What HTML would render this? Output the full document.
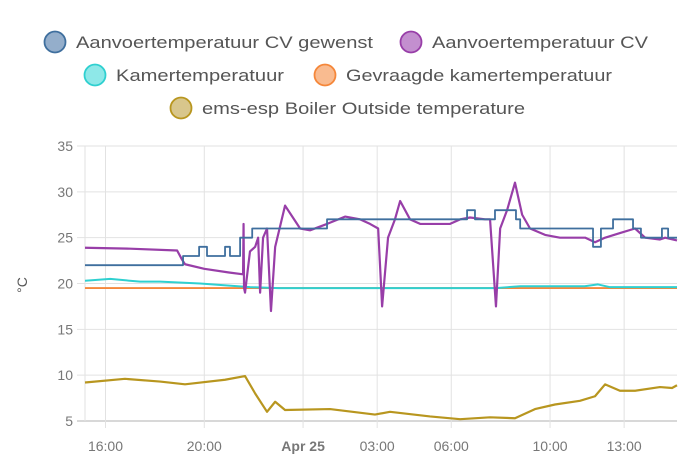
<!DOCTYPE html>
<html><head><meta charset="utf-8"><style>
body{margin:0;background:#fff;}
svg{display:block;font-family:"Liberation Sans",sans-serif;}
</style></head><body>
<svg id="chart" width="691" height="476" viewBox="0 0 691 476">
<g id="legend"></g>
<g id="grid"></g>
<g id="axes"></g>
<g id="series"></g>
<text x="0" y="0" transform="translate(27,285) rotate(-90)" text-anchor="middle" font-size="14" fill="#555">°C</text>
</svg>
<script>
const yTicks=[5,10,15,20,25,30,35];
const xTickTimes=[-8,-4,0,3,6,10,13];
const xTickLabels=["16:00","20:00","Apr 25","03:00","06:00","10:00","13:00"];
const setT=[-8.83,-4.86,-4.21,-3.89,-3.16,-2.96,-2.55,-2.06,0.97,6.64,6.96,7.77,8.62,8.79,11.74,12.06,12.55,13.36,13.68,14.53,14.78,15.14];
const setV=[22,23,24,23,24,23,25,26,27,28,27,28,27,26,24,26,27,26,25,26,25,25];
const cvT=[-8.83,-7,-5.1,-4.9,-4.78,-4,-3,-2.43,-2.41,-2.39,-2.35,-2.15,-1.94,-1.82,-1.74,-1.62,-1.46,-1.30,-1.13,-0.73,-0.12,0.28,0.97,1.7,2.31,2.71,3.04,3.2,3.44,3.72,3.93,4.33,4.74,5.95,6.36,6.76,7.37,7.57,7.81,7.98,8.26,8.58,8.87,9.19,9.8,10.4,11.42,11.82,12.23,12.83,13.44,13.85,14.45,14.66,15.14];
const cvV=[23.9,23.8,23.6,22.6,22.1,21.6,21.2,21.0,26.5,19.5,19,23.5,24,25,19,25,26,17,24,28.5,26,25.8,26.5,27.3,27,26.5,26,17.5,25,27,29,27,26.5,26.5,27,27.2,27,27,17.5,26,28,31,27.5,26,25.3,25,25,24.5,25,25.5,26,25,24.8,25,24.7];
const roomT=[-8.83,-7.81,-6.6,-5.79,-4.17,-2.15,-1.0,3,7.8,8.79,11.4,11.94,12.43,15.14];
const roomV=[20.3,20.5,20.2,20.2,20.0,19.6,19.5,19.5,19.5,19.7,19.7,19.9,19.6,19.6];
const reqT=[-8.83,15.14];
const reqV=[19.5,19.5];
const outT=[-8.83,-7.21,-5.79,-4.78,-3.16,-2.35,-1.94,-1.46,-1.13,-0.73,1.09,2.91,3.52,5.14,6.36,7.57,8.58,9.39,10.2,11.21,11.82,12.23,12.83,13.44,14.45,14.94,15.14];
const outV=[9.2,9.6,9.3,9.0,9.5,9.9,8.0,6.0,7.1,6.2,6.3,5.7,6.0,5.5,5.2,5.4,5.3,6.3,6.8,7.2,7.7,9.0,8.3,8.3,8.7,8.6,8.9];

const X0=85,X1=677,Y0=421,Y1=146;
const tMin=-8.83,tMax=15.14;
function xs(t){return X0+(t-tMin)/(tMax-tMin)*(X1-X0);}
function ys(v){return Y0-(v-5)/(35-5)*(Y0-Y1);}
const NS="http://www.w3.org/2000/svg";
function mk(tag,attrs,parent){const e=document.createElementNS(NS,tag);for(const k in attrs)e.setAttribute(k,attrs[k]);parent.appendChild(e);return e;}
const grid=document.getElementById('grid'),axes=document.getElementById('axes'),series=document.getElementById('series'),legend=document.getElementById('legend');
yTicks.forEach(v=>{
  const l=mk('line',{x1:X0-8,x2:X1,y1:ys(v),y2:ys(v),stroke:v===5?'#ccc':'#e2e2e2','stroke-width':v===5?1.5:1},grid);
  
  
  const t=mk('text',{x:X0-12,y:ys(v)+5,'text-anchor':'end','font-size':14,fill:'#777'},axes);
  t.textContent=v;
  
  
});
xTickTimes.forEach((tt,i)=>{
  const l=mk('line',{x1:xs(tt),x2:xs(tt),y1:Y1,y2:Y0+7,stroke:'#e2e2e2','stroke-width':1},grid);
  
  
  const t=mk('text',{x:xs(tt),y:Y0+30,'text-anchor':'middle','font-size':14,fill:'#777','font-weight':xTickLabels[i].startsWith('Apr')?'bold':'normal'},axes);
  t.textContent=xTickLabels[i];
  
  
});
const lv=mk('line',{x1:X0,x2:X0,y1:Y1,y2:Y0,stroke:'#e2e2e2'},grid);


function linePath(T,V,step){let d='';for(let i=0;i<T.length;i++){const x=xs(T[i]),y=ys(V[i]);if(i===0)d+='M'+x+' '+y;else if(step)d+='H'+x+'V'+y;else d+='L'+x+' '+y;}return d;}
function draw(T,V,color,name,step,w){const p=mk('path',{d:linePath(T,V,step),fill:'none',stroke:color,'stroke-width':w,'stroke-linejoin':'round'},series);}
draw(reqT,reqV,'#f5873a','series-requested-room-temp',false,1.8);
draw(roomT,roomV,'#2fd0d0','series-room-temp',false,2);
draw(outT,outV,'#b8961f','series-outside-temp',false,2.2);
draw(cvT,cvV,'#983ea8','series-flow-temp',false,2.2);
draw(setT,setV,'#3f6f9e','series-flow-setpoint',true,1.8);
const items=[
 [55,42,'#3f6f9e','#94aecb','Aanvoertemperatuur CV gewenst',297,'legend-flow-setpoint'],
 [411,42,'#983ea8','#c38fcf','Aanvoertemperatuur CV',216,'legend-flow-temp'],
 [95,75,'#2fd0d0','#8ee8e8','Kamertemperatuur',168,'legend-room-temp'],
 [325,75,'#f5873a','#f9bb90','Gevraagde kamertemperatuur',266,'legend-requested-room-temp'],
 [181,108,'#b8961f','#d8c68c','ems-esp Boiler Outside temperature',323,'legend-outside-temp']];
items.forEach(it=>{
  const g=mk('g',{},legend);
  
  
  mk('circle',{cx:it[0],cy:it[1],r:10.5,fill:it[3],stroke:it[2],'stroke-width':1.8},g);
  const t=mk('text',{x:it[0]+21,y:it[1]+6,'font-size':17,fill:'#555',textLength:it[5],lengthAdjust:'spacingAndGlyphs'},g);
  t.textContent=it[4];
});
</script>
</body></html>
